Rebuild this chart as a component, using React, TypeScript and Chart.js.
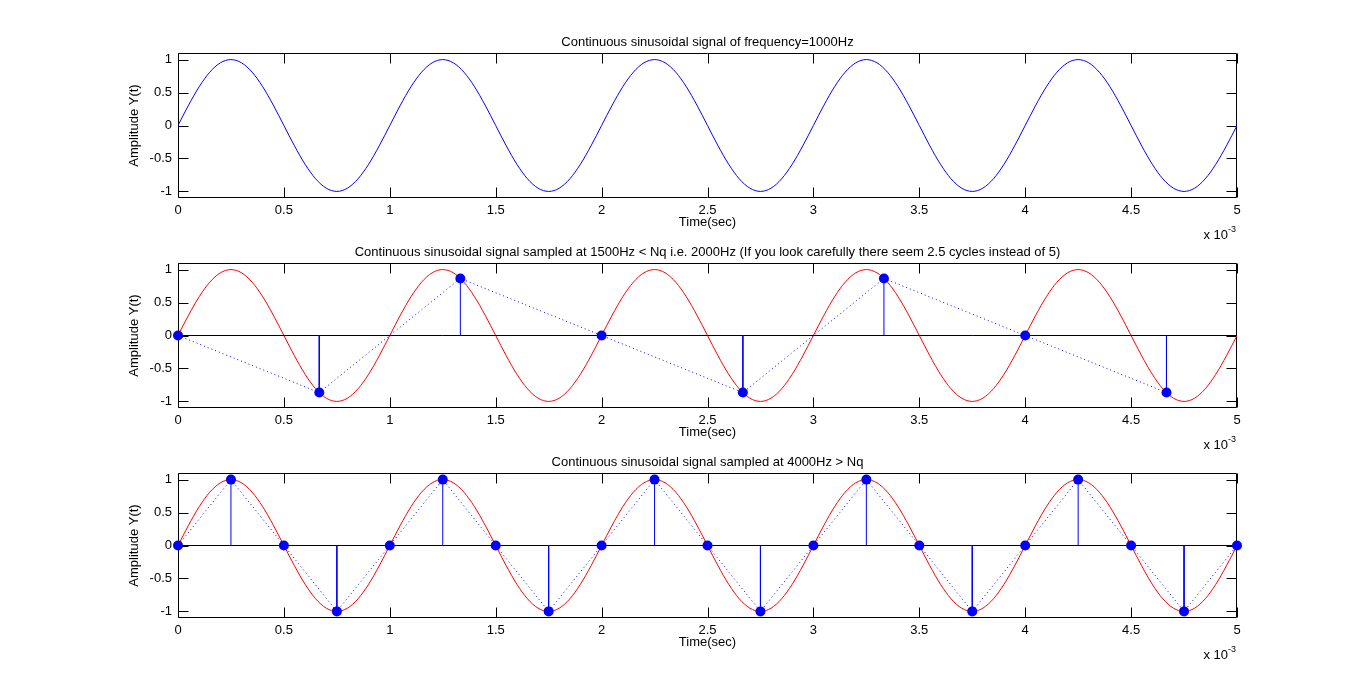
import React, { useEffect, useRef } from 'react';
import { Chart, registerables } from 'chart.js';

Chart.register(...registerables);

// ---------- data ----------
const xTicksMs = [0, 0.5, 1, 1.5, 2, 2.5, 3, 3.5, 4, 4.5, 5];
const xTickLabels = ['0', '0.5', '1', '1.5', '2', '2.5', '3', '3.5', '4', '4.5', '5'];
const yTicks = [-1, -0.5, 0, 0.5, 1];
const yTickLabels = ['-1', '-0.5', '0', '0.5', '1'];

const titles = [
  'Continuous sinusoidal signal of frequency=1000Hz',
  'Continuous sinusoidal signal sampled at 1500Hz < Nq i.e. 2000Hz (If you look carefully there seem 2.5 cycles instead of 5)',
  'Continuous sinusoidal signal sampled at 4000Hz > Nq',
];
const xTitle = 'Time(sec)';
const yTitle = 'Amplitude Y(t)';
const exponentBase = 'x 10';
const exponentPower = '-3';

// continuous signal, read every 0.05 ms (time axis in ms, shown with x 10^-3)
const contStepMs = 0.05;
const contAmp = [
  0, 0.309, 0.588, 0.809, 0.951, 1, 0.951, 0.809, 0.588, 0.309,
  0, -0.309, -0.588, -0.809, -0.951, -1, -0.951, -0.809, -0.588, -0.309,
  0, 0.309, 0.588, 0.809, 0.951, 1, 0.951, 0.809, 0.588, 0.309,
  0, -0.309, -0.588, -0.809, -0.951, -1, -0.951, -0.809, -0.588, -0.309,
  0, 0.309, 0.588, 0.809, 0.951, 1, 0.951, 0.809, 0.588, 0.309,
  0, -0.309, -0.588, -0.809, -0.951, -1, -0.951, -0.809, -0.588, -0.309,
  0, 0.309, 0.588, 0.809, 0.951, 1, 0.951, 0.809, 0.588, 0.309,
  0, -0.309, -0.588, -0.809, -0.951, -1, -0.951, -0.809, -0.588, -0.309,
  0, 0.309, 0.588, 0.809, 0.951, 1, 0.951, 0.809, 0.588, 0.309,
  0, -0.309, -0.588, -0.809, -0.951, -1, -0.951, -0.809, -0.588, -0.309,
  0,
];

// sampled at 1500 Hz
const under1500TimesMs = [0, 0.667, 1.333, 2, 2.667, 3.333, 4, 4.667];
const under1500Amp = [0, -0.866, 0.866, 0, -0.866, 0.866, 0, -0.866];

// sampled at 4000 Hz
const over4000TimesMs = [
  0, 0.25, 0.5, 0.75, 1, 1.25, 1.5, 1.75, 2, 2.25, 2.5,
  2.75, 3, 3.25, 3.5, 3.75, 4, 4.25, 4.5, 4.75, 5,
];
const over4000Amp = [
  0, 1, 0, -1, 0, 1, 0, -1, 0, 1, 0,
  -1, 0, 1, 0, -1, 0, 1, 0, -1, 0,
];

// ---------- style / layout ----------
const FONT = "'Liberation Sans', Arial, Helvetica, sans-serif";
const FONT_SIZE = 13;
const LINE_H = FONT_SIZE * 1.2;
const BLUE = '#0000ff';
const RED = '#ff0000';
const BLACK = '#000000';
const W = 1366;
const PLOT_LEFT = 178;
const PLOT_RIGHT = 1237;
const PLOT_H = 145;
const Y_AXIS_W = 51;
const RIGHT_AXIS_W = 20;
const ABOVE = 40;
const BELOW = 48;
const X_AXIS_H = 32;
const TITLE_GAP = 3;
const TICK_LEN = 10;
const plotTops = [53, 263, 473];

type Kind = 'cont' | 'under' | 'over';
const kinds: Kind[] = ['cont', 'under', 'over'];

function contPoints() {
  return contAmp.map((y, i) => ({ x: i * contStepMs, y }));
}

function buildDatasets(kind: Kind): any[] {
  if (kind === 'cont') {
    return [
      {
        data: contPoints(),
        borderColor: BLUE,
        borderWidth: 1,
        pointRadius: 0,
        cubicInterpolationMode: 'monotone',
        fill: false,
      },
    ];
  }
  const times = kind === 'under' ? under1500TimesMs : over4000TimesMs;
  const amps = kind === 'under' ? under1500Amp : over4000Amp;
  const samples = times.map((t, i) => ({ x: t, y: amps[i] }));
  const stems: any[] = [];
  times.forEach((t, i) => {
    stems.push({ x: t, y: 0 }, { x: t, y: amps[i] }, { x: t, y: null });
  });
  return [
    {
      data: samples,
      showLine: false,
      pointRadius: 5,
      pointBackgroundColor: BLUE,
      pointBorderColor: BLUE,
      pointBorderWidth: 0,
      clip: false,
      order: 0,
    },
    {
      data: samples,
      borderColor: BLUE,
      borderWidth: 1,
      borderDash: [1, 3],
      pointRadius: 0,
      order: 1,
    },
    {
      data: stems,
      borderColor: BLUE,
      borderWidth: 1,
      pointRadius: 0,
      spanGaps: false,
      order: 2,
    },
    {
      data: [
        { x: xTicksMs[0], y: 0 },
        { x: xTicksMs[xTicksMs.length - 1], y: 0 },
      ],
      borderColor: BLACK,
      borderWidth: 1,
      pointRadius: 0,
      order: 3,
    },
    {
      data: contPoints(),
      borderColor: RED,
      borderWidth: 1,
      pointRadius: 0,
      cubicInterpolationMode: 'monotone',
      order: 4,
    },
  ];
}

const framePlugin = {
  id: 'matlabFrame',
  beforeDatasetsDraw(chart: any) {
    const { ctx, chartArea: a, scales } = chart;
    const x = scales.x;
    const y = scales.y;
    const l = Math.round(a.left) + 0.5;
    const r = Math.round(a.right) - 0.5;
    const t = Math.round(a.top) + 0.5;
    const b = Math.round(a.bottom) - 0.5;
    ctx.save();
    ctx.strokeStyle = BLACK;
    ctx.lineWidth = 1;
    ctx.beginPath();
    ctx.rect(l, t, r - l, b - t);
    xTicksMs.forEach((v) => {
      const px = Math.round(x.getPixelForValue(v)) + 0.5;
      ctx.moveTo(px, b);
      ctx.lineTo(px, b - TICK_LEN);
      ctx.moveTo(px, t);
      ctx.lineTo(px, t + TICK_LEN);
    });
    yTicks.forEach((v) => {
      const py = Math.round(y.getPixelForValue(v)) + 0.5;
      ctx.moveTo(l, py);
      ctx.lineTo(l + TICK_LEN, py);
      ctx.moveTo(r, py);
      ctx.lineTo(r - TICK_LEN, py);
    });
    ctx.stroke();
    ctx.restore();
  },
  afterDraw(chart: any) {
    const { ctx, chartArea: a } = chart;
    ctx.save();
    ctx.fillStyle = BLACK;
    ctx.textBaseline = 'alphabetic';
    ctx.font = `${FONT_SIZE}px ${FONT}`;
    ctx.textAlign = 'right';
    const xr = a.right - 9;
    ctx.fillText(exponentBase, xr, a.bottom + 41);
    ctx.font = `9px ${FONT}`;
    ctx.textAlign = 'left';
    ctx.fillText(exponentPower, xr, a.bottom + 34);
    ctx.restore();
  },
};

function SubPlot({ index }: { index: number }) {
  const ref = useRef<HTMLCanvasElement | null>(null);
  useEffect(() => {
    if (!ref.current) return;
    const font = { family: FONT, size: FONT_SIZE, weight: 'normal' as const };
    const chart = new Chart(ref.current, {
      type: 'line',
      data: { datasets: buildDatasets(kinds[index]) },
      plugins: [framePlugin],
      options: {
        responsive: false,
        animation: false,
        events: [],
        layout: {
          padding: {
            left: PLOT_LEFT - Y_AXIS_W,
            right: W - PLOT_RIGHT - RIGHT_AXIS_W,
            top: ABOVE - LINE_H - TITLE_GAP,
            bottom: BELOW - X_AXIS_H,
          },
        },
        plugins: {
          legend: { display: false },
          tooltip: { enabled: false },
          title: {
            display: true,
            text: titles[index],
            color: BLACK,
            font,
            fullSize: false,
            padding: { top: 0, bottom: TITLE_GAP },
          },
        },
        scales: {
          x: {
            type: 'linear',
            min: xTicksMs[0],
            max: xTicksMs[xTicksMs.length - 1],
            grid: { display: false, drawTicks: false },
            border: { display: false },
            ticks: {
              color: BLACK,
              font,
              padding: 5,
              autoSkip: false,
              maxRotation: 0,
              callback: (v: any) => xTickLabels[xTicksMs.indexOf(Number(v))] ?? '',
            },
            afterBuildTicks: (s: any) => {
              s.ticks = xTicksMs.map((value) => ({ value }));
            },
            afterFit: (s: any) => {
              s.height = X_AXIS_H;
            },
            title: { display: true, text: xTitle, color: BLACK, font, padding: { top: 0, bottom: 0 } },
          },
          y: {
            type: 'linear',
            position: 'left',
            min: -1.1,
            max: 1.1,
            grid: { display: false, drawTicks: false },
            border: { display: false },
            ticks: {
              color: BLACK,
              font,
              padding: 6,
              autoSkip: false,
              callback: (v: any) => yTickLabels[yTicks.indexOf(Number(v))] ?? '',
            },
            afterBuildTicks: (s: any) => {
              s.ticks = yTicks.map((value) => ({ value }));
            },
            afterFit: (s: any) => {
              s.width = Y_AXIS_W;
            },
            title: { display: true, text: yTitle, color: BLACK, font, padding: { top: 0, bottom: 0 } },
          },
          yr: {
            type: 'linear',
            position: 'right',
            display: true,
            grid: { display: false, drawTicks: false },
            border: { display: false },
            ticks: { display: false },
            afterFit: (s: any) => {
              s.width = RIGHT_AXIS_W;
            },
          },
        },
      } as any,
    });
    return () => chart.destroy();
  }, [index]);
  const top = plotTops[index] - ABOVE;
  const h = ABOVE + PLOT_H + BELOW;
  return (
    <canvas
      ref={ref}
      width={W}
      height={h}
      style={{ position: 'absolute', left: 0, top, width: W, height: h }}
    />
  );
}

export default function App() {
  return (
    <div
      style={{
        position: 'absolute',
        left: 0,
        top: 0,
        width: W,
        height: 697,
        background: '#ffffff',
        overflow: 'hidden',
      }}
    >
      {kinds.map((_, i) => (
        <SubPlot key={i} index={i} />
      ))}
    </div>
  );
}
